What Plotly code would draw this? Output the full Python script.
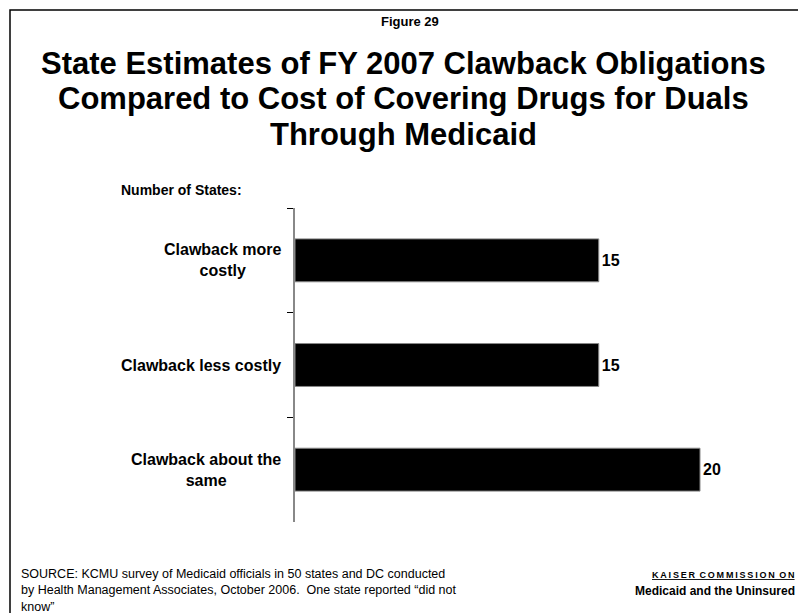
import plotly.graph_objects as go

categories = ["Clawback more costly", "Clawback less costly", "Clawback about the same"]
label_text = ["Clawback more<br>costly", "Clawback less costly", "Clawback about the<br>same"]
values = [15, 15, 20]

FONT = "Liberation Sans, Arial, sans-serif"
OFF = 8  # default page margin of the html body

W, H = 798, 605
# page-pixel geometry of the plot area
PL, PT, PR, PB = 295, 208, 781, 522
L, T = PL - OFF, PT - OFF
R = W - (PR - OFF)
B = H - (PB - OFF)

fig = go.Figure()
fig.add_trace(go.Bar(
    y=categories, x=values, orientation="h",
    marker=dict(color="black", line=dict(color="#888888", width=1)),
    width=0.41,
    text=[str(v) for v in values], textposition="outside",
    textfont=dict(family=FONT, size=16, color="black", weight="bold"),
    cliponaxis=False,
))

fig.update_layout(
    width=W, height=H,
    margin=dict(l=L, r=R, t=T, b=B),
    paper_bgcolor="white", plot_bgcolor="white",
    showlegend=False,
    font=dict(family=FONT, color="black"),
    xaxis=dict(range=[0, 24], visible=False),
    yaxis=dict(
        categoryorder="array", categoryarray=categories, autorange=False,
        range=[2.5, -0.5],
        showline=True, linecolor="#888888", linewidth=1.5,
        ticks="outside", tickson="boundaries", ticklen=6, tickcolor="black", tickwidth=1,
        showticklabels=False, showgrid=False, zeroline=False,
    ),
)


def px(x, y):
    # page pixel -> paper coords
    return (x - PL) / (PR - PL), (PB - y) / (PB - PT)


def ptxt(x, y, text, size, bold=False, xanchor="center", yanchor="middle", align="center"):
    xx, yy = px(x, y)
    fig.add_annotation(x=xx, y=yy, xref="paper", yref="paper", text=text,
                       showarrow=False, xanchor=xanchor, yanchor=yanchor, align=align,
                       font=dict(family=FONT, size=size, color="black",
                                 weight="bold" if bold else "normal"))


for cat, lab in zip(categories, label_text):
    xx, _ = px(283, 0)
    fig.add_annotation(x=xx, xref="paper", y=cat, yref="y",
                       text=lab, showarrow=False, xanchor="right", align="center",
                       font=dict(family=FONT, size=16, color="black", weight="bold"))

ptxt(410, 22, "Figure 29", 13, bold=True)
ptxt(403, 63, "State Estimates of FY 2007 Clawback Obligations", 31, bold=True)
ptxt(403, 99, "Compared to Cost of Covering Drugs for Duals", 31, bold=True)
ptxt(403, 135, "Through Medicaid", 31, bold=True)
ptxt(119, 190, "Number of States:", 14, bold=True, xanchor="left")
src = ["SOURCE: KCMU survey of Medicaid officials in 50 states and DC conducted",
       "by Health Management Associates, October 2006.  One state reported \u201cdid not",
       "know\u201d"]
ptxt(19, 590, "<br>".join(src), 12.5, xanchor="left", align="left")
ptxt(797, 575, "<u>K\u2009A\u2009I\u2009S\u2009E\u2009R\u2002C\u2009O\u2009M\u2009M\u2009I\u2009S\u2009S\u2009I\u2009O\u2009N\u2002O\u2009N</u>", 9, bold=True, xanchor="right")
ptxt(797, 591, "Medicaid and the Uninsured", 12, bold=True, xanchor="right")

# frame
x0, y0 = px(10, 10)
x1, y1 = px(830, 640)
fig.add_shape(type="rect", xref="paper", yref="paper", x0=x0, y0=y0, x1=x1, y1=y1,
              line=dict(color="black", width=1.5), fillcolor="rgba(0,0,0,0)")

fig.write_html("out.html")
